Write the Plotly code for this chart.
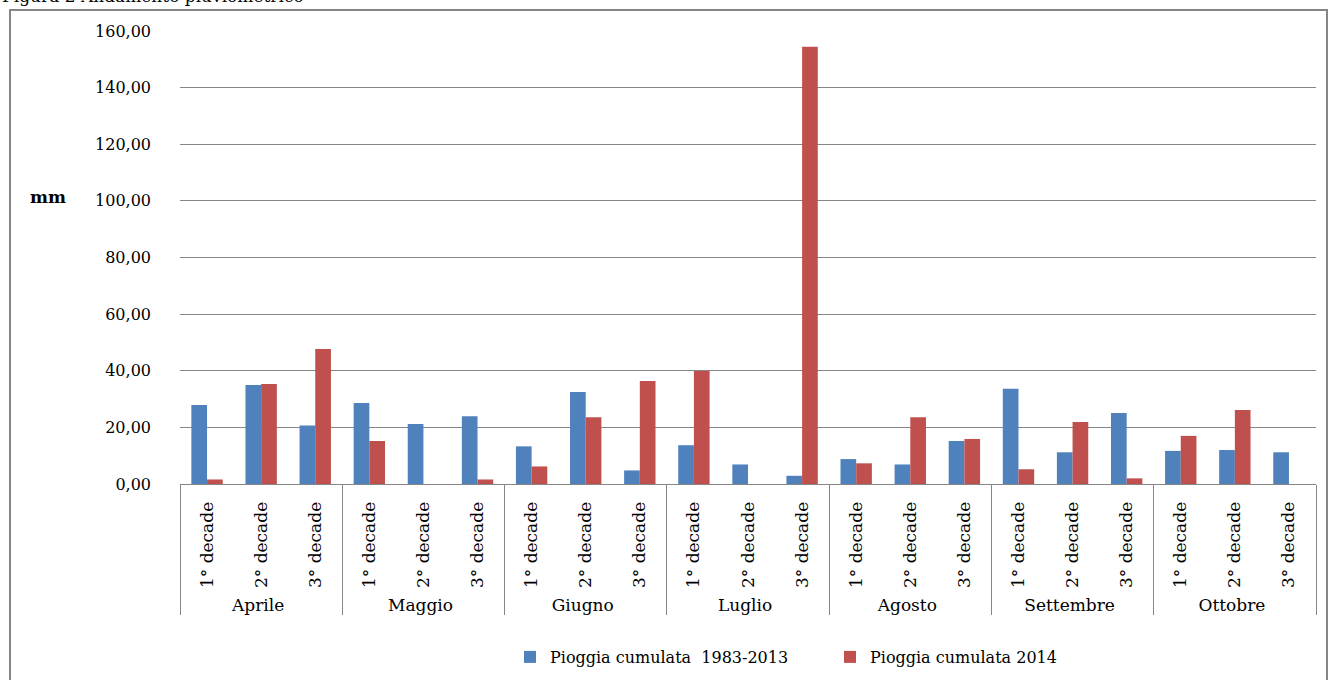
import plotly.graph_objects as go

# Decadal rainfall (mm), April–October
months = ["Aprile", "Maggio", "Giugno", "Luglio", "Agosto", "Settembre", "Ottobre"]
decades = ["1° decade", "2° decade", "3° decade"]

rain_1983_2013 = [27.9, 35.0, 20.7,
                  28.6, 21.2, 23.9,
                  13.3, 32.5, 4.8,
                  13.7, 6.9, 2.9,
                  8.8, 6.9, 15.2,
                  33.6, 11.2, 25.1,
                  11.7, 12.0, 11.2]
rain_2014 = [1.6, 35.3, 47.7,
             15.2, 0.0, 1.6,
             6.2, 23.6, 36.4,
             39.9, 0.0, 154.4,
             7.3, 23.6, 15.9,
             5.2, 21.9, 2.0,
             17.0, 26.1, 0.0]

y_ticks = [0, 20, 40, 60, 80, 100, 120, 140, 160]

outer = [m for m in months for _ in decades]
inner = [d for _ in months for d in decades]

FONT = "DejaVu Serif"
W, H = 1328, 680
ML, MR, MT, MB = 180, 12, 31, 196
PW, PH = W - ML - MR, H - MT - MB


def px_x(p):
    return (p - ML) / PW


def px_y(p):
    return (H - MB - p) / PH


fig = go.Figure()
fig.add_trace(go.Bar(x=[outer, inner], y=rain_1983_2013,
                     name="Pioggia cumulata  1983-2013",
                     marker=dict(color="#4F81BD", line=dict(width=0))))
fig.add_trace(go.Bar(x=[outer, inner], y=rain_2014,
                     name="Pioggia cumulata 2014",
                     marker=dict(color="#C0504D", line=dict(width=0))))

fig.update_layout(
    width=W, height=H,
    margin=dict(l=ML, r=MR, t=MT, b=MB, autoexpand=False),
    paper_bgcolor="white", plot_bgcolor="white",
    barmode="group", bargap=0.42, bargroupgap=0.0,
    separators=",.",
    font=dict(family=FONT, size=16, color="#000000"),
    showlegend=True,
    legend=dict(orientation="h", x=px_x(830), xanchor="center",
                y=px_y(657), yanchor="middle",
                font=dict(family=FONT, size=16), itemwidth=30,
                entrywidth=275, traceorder="normal"),
)

fig.update_xaxes(
    type="multicategory", automargin=False,
    showline=True, linecolor="#868686", linewidth=1,
    showgrid=False, ticks="",
    tickangle=-90, ticklabelstandoff=10,
    showdividers=True, dividercolor="#868686", dividerwidth=1,
    tickfont=dict(family=FONT, size=17),
)
fig.update_yaxes(
    automargin=False,
    range=[0, 160], tickvals=y_ticks, tickformat=".2f",
    showgrid=True, gridcolor="#868686", gridwidth=1,
    showline=False, zeroline=False, ticks="",
    ticklabelstandoff=28,
    tickfont=dict(family=FONT, size=16),
)

# Axis unit label
fig.add_annotation(text="<b>mm</b>", xref="paper", yref="paper",
                   x=px_x(48), y=px_y(197), xanchor="center", yanchor="middle",
                   showarrow=False, font=dict(family=FONT, size=17))

# Figure caption above the chart frame
fig.add_annotation(text="Figura 2 Andamento pluviometrico", xref="paper", yref="paper",
                   x=px_x(0), y=px_y(-4), xanchor="left", yanchor="middle",
                   showarrow=False, font=dict(family=FONT, size=17))

# Chart frame
fig.add_shape(type="rect", xref="paper", yref="paper",
              x0=px_x(10), x1=px_x(1327), y0=px_y(700), y1=px_y(10),
              line=dict(color="#868686", width=2), fillcolor="rgba(0,0,0,0)",
              layer="below")

fig.write_html("out.html")
